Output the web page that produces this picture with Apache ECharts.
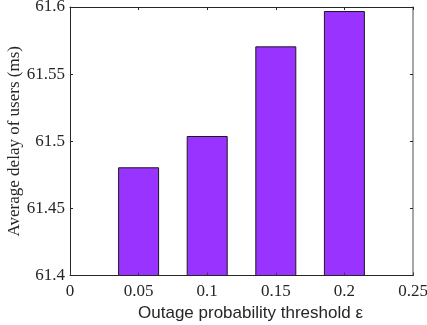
<!DOCTYPE html>
<html>
<head>
<meta charset="utf-8">
<script src="https://cdn.jsdelivr.net/npm/echarts@6/dist/echarts.min.js"></script>
<style>
  html, body { margin: 0; padding: 0; background: #fff; }
  #chart { width: 427px; height: 325px; }
</style>
</head>
<body>
<div id="chart"></div>
<script>
// Outage probability thresholds and the resulting average user delay
const thresholds = [0.05, 0.1, 0.15, 0.2];
const avgDelay = [61.4806, 61.5039, 61.5707, 61.597];
const xTicks = [0, 0.05, 0.1, 0.15, 0.2, 0.25];
const yTicks = [61.4, 61.45, 61.5, 61.55, 61.6];

const axisColor = '#262626';
const serif = '"Liberation Serif", "Times New Roman", serif';
const sans = '"Liberation Sans", Arial, sans-serif';

const chart = echarts.init(document.getElementById('chart'), null, { renderer: 'canvas' });

const barData = thresholds.map((t, i) => [t, avgDelay[i]]);

const fmt = v => String(+v.toFixed(4));

chart.setOption({
  animation: false,
  backgroundColor: '#fff',
  grid: { left: 70, right: 14, top: 7, bottom: 49.5, containLabel: false, outerBoundsMode: 'none' },
  xAxis: [
    {
      type: 'value',
      min: xTicks[0],
      max: xTicks[xTicks.length - 1],
      interval: 0.05,
      position: 'bottom',
      z: 5,
      name: 'Outage probability threshold ε',
      nameLocation: 'middle',
      nameGap: 29,
      nameMoveOverlap: false,
      nameTextStyle: { fontFamily: sans, fontSize: 17, color: axisColor, padding: [0, 0, 0, 18] },
      axisLine: { show: true, onZero: false, lineStyle: { color: axisColor, width: 1 } },
      axisTick: { show: true, inside: true, length: 3, lineStyle: { color: '#4a2a6a' } },
      axisLabel: { fontFamily: serif, fontSize: 17, color: axisColor, margin: 8, formatter: fmt },
      splitLine: { show: false }
    },
    {
      type: 'value',
      min: xTicks[0],
      max: xTicks[xTicks.length - 1],
      interval: 0.05,
      position: 'top',
      z: 5,
      axisLine: { show: true, onZero: false, lineStyle: { color: axisColor, width: 1 } },
      axisTick: { show: true, inside: true, length: 3, lineStyle: { color: axisColor } },
      axisLabel: { show: false },
      splitLine: { show: false }
    }
  ],
  yAxis: [
    {
      type: 'value',
      min: yTicks[0],
      max: yTicks[yTicks.length - 1],
      interval: 0.05,
      position: 'left',
      z: 5,
      name: 'Average delay of users (ms)',
      nameLocation: 'middle',
      nameGap: 47,
      nameMoveOverlap: false,
      nameTextStyle: { fontFamily: serif, fontSize: 17, color: axisColor },
      axisLine: { show: true, onZero: false, lineStyle: { color: axisColor, width: 1 } },
      axisTick: { show: true, inside: true, length: 3, lineStyle: { color: axisColor } },
      axisLabel: { fontFamily: serif, fontSize: 17, color: axisColor, margin: 5, formatter: fmt },
      splitLine: { show: false }
    },
    {
      type: 'value',
      min: yTicks[0],
      max: yTicks[yTicks.length - 1],
      interval: 0.05,
      position: 'right',
      z: 5,
      axisLine: { show: true, onZero: false, lineStyle: { color: '#8a8a8a', width: 1.5 } },
      axisTick: { show: true, inside: true, length: 3, lineStyle: { color: axisColor } },
      axisLabel: { show: false },
      splitLine: { show: false }
    }
  ],
  series: [
    {
      type: 'bar',
      xAxisIndex: 0,
      yAxisIndex: 0,
      data: barData,
      barWidth: 41,
      clip: true,
      itemStyle: { color: '#9933ff', borderColor: '#1a1a1a', borderWidth: 1 },
      emphasis: { disabled: true },
      z: 1
    }
  ]
});
</script>
</body>
</html>
